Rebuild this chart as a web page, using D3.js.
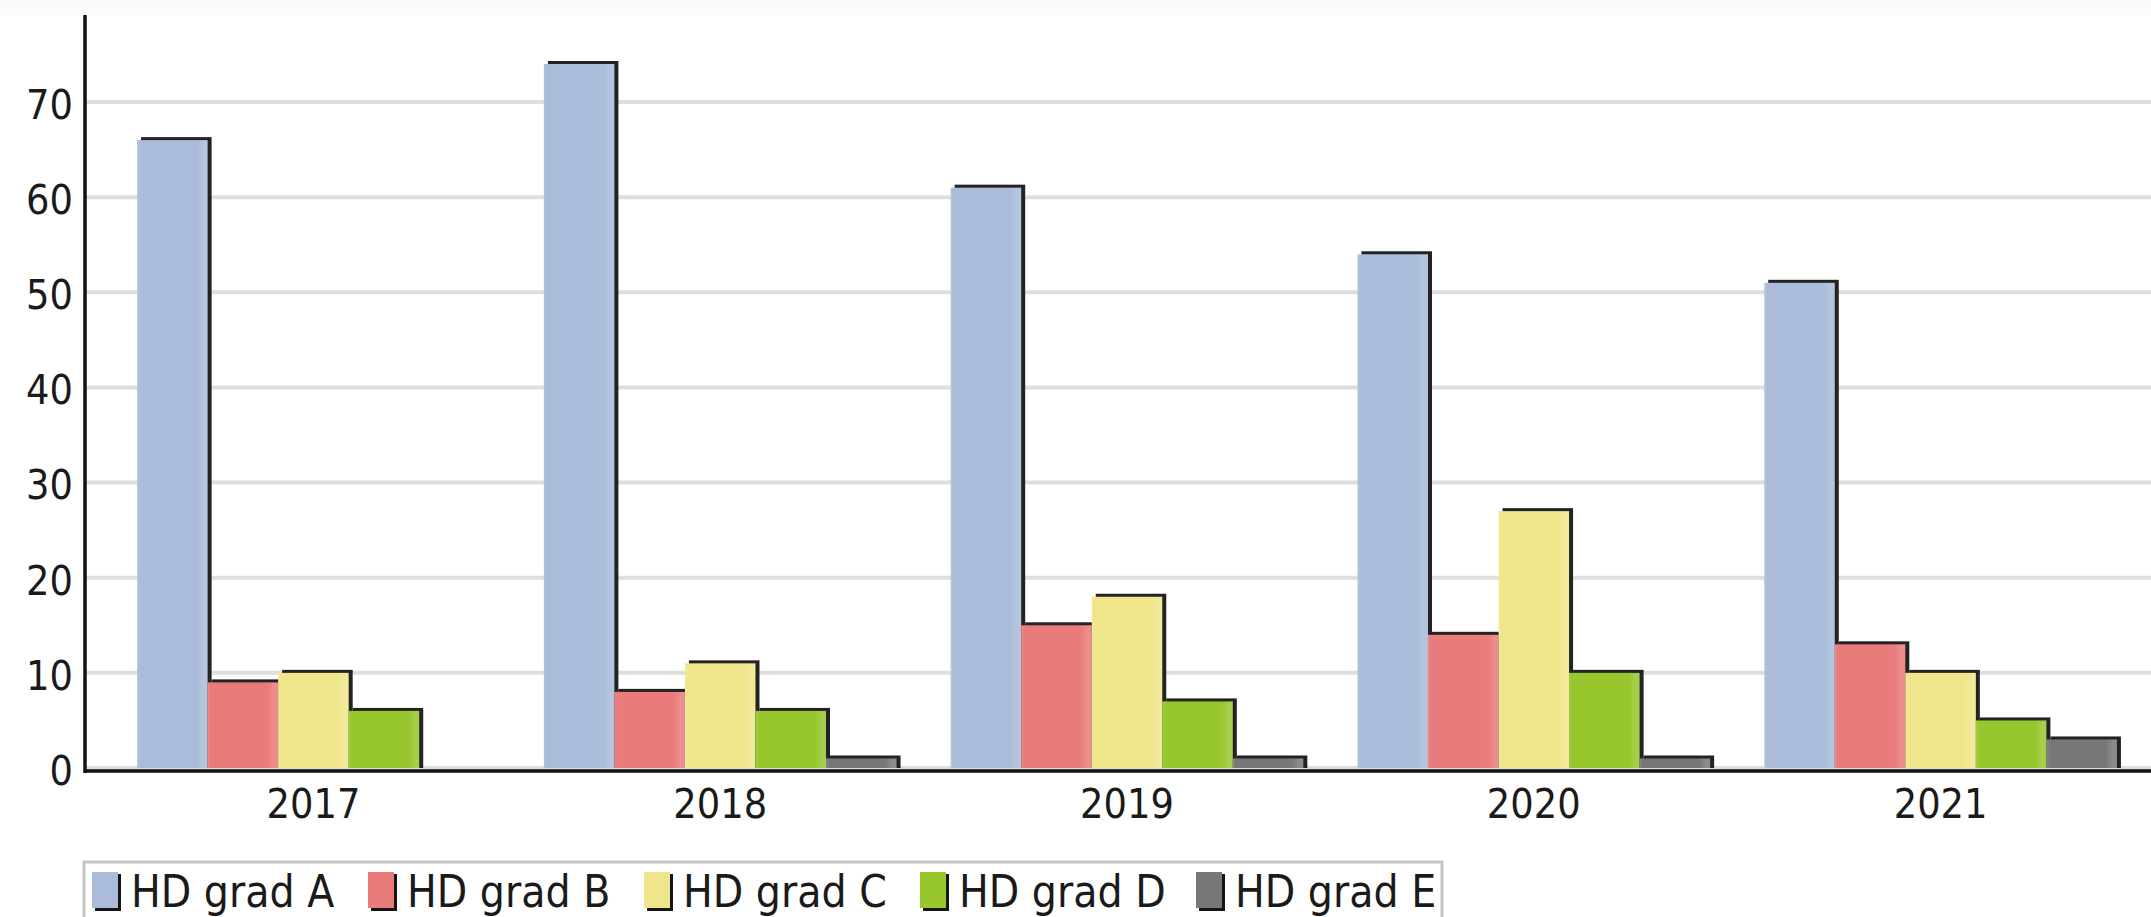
<!DOCTYPE html>
<html>
<head>
<meta charset="utf-8">
<script src="https://cdn.jsdelivr.net/npm/d3@7"></script>
<style>
  html, body { margin: 0; padding: 0; background: #ffffff; overflow: hidden; }
  svg { display: block; }
  text { font-family: "Liberation Sans Narrow", "Arial Narrow", "DejaVu Sans Condensed", sans-serif; fill: #1a1a1a; }
</style>
</head>
<body>
<svg id="chart" width="2151" height="917"></svg>
<script>
// ---- data ----
const years = ["2017", "2018", "2019", "2020", "2021"];
const seriesNames = ["HD grad A", "HD grad B", "HD grad C", "HD grad D", "HD grad E"];
const gradA = [66, 74, 61, 54, 51];
const gradB = [9, 8, 15, 14, 13];
const gradC = [10, 11, 18, 27, 10];
const gradD = [6, 6, 7, 10, 5];
const gradE = [0, 1, 1, 1, 3];
const yTicks = [0, 10, 20, 30, 40, 50, 60, 70];
const seriesColors = ["#aabcd9", "#ea7b7b", "#efe68b", "#97c62d", "#787878"];

const seriesValues = [gradA, gradB, gradC, gradD, gradE];

// ---- layout ----
const W = 2151, H = 917;
const axisX = 85, plotTop = 15, zeroY = 768;

const svg = d3.select("#chart");

svg.append("rect").attr("x", 0).attr("y", 0).attr("width", W).attr("height", H).attr("fill", "#ffffff");
svg.append("rect").attr("x", 0).attr("y", 0).attr("width", W).attr("height", plotTop).attr("fill", "#fafafa");

const y = d3.scaleLinear().domain([0, 79.15]).range([zeroY, plotTop]);

const x0 = d3.scaleBand().domain(years).range([axisX, 2169]).paddingInner(0.133).paddingOuter(0.128);
const x1 = d3.scaleBand().domain(seriesNames).range([0, x0.bandwidth()]).padding(0);

// gradients for bars
const defs = svg.append("defs");
seriesColors.forEach((c, i) => {
  const g = defs.append("linearGradient").attr("id", "grad" + i).attr("x1", "0%").attr("x2", "100%").attr("y1", "0%").attr("y2", "0%");
  const light = d3.interpolateRgb(c, "#ffffff")(0.14);
  g.append("stop").attr("offset", "0%").attr("stop-color", light);
  g.append("stop").attr("offset", "4%").attr("stop-color", c);
  g.append("stop").attr("offset", "84%").attr("stop-color", c);
  g.append("stop").attr("offset", "94%").attr("stop-color", light);
  g.append("stop").attr("offset", "100%").attr("stop-color", light);
});

// gridlines
svg.append("g").selectAll("line").data(yTicks).join("line")
  .attr("x1", axisX).attr("x2", W)
  .attr("y1", d => y(d)).attr("y2", d => y(d))
  .attr("stroke", "#dedede").attr("stroke-width", 4);

// bars
const rows = years.map((yr, i) => ({ year: yr, vals: seriesNames.map((s, j) => ({ s, j, v: seriesValues[j][i] })) }));
const groups = svg.append("g").selectAll("g").data(rows).join("g")
  .attr("transform", d => `translate(${x0(d.year)},0)`);

// shadows first
groups.selectAll("rect.shadow").data(d => d.vals.filter(e => e.v > 0)).join("rect")
  .attr("class", "shadow")
  .attr("x", e => x1(e.s) + 4)
  .attr("y", e => y(e.v) - 3)
  .attr("width", x1.bandwidth())
  .attr("height", e => zeroY - y(e.v) + 3)
  .attr("fill", "#232323");

groups.selectAll("rect.bar").data(d => d.vals.filter(e => e.v > 0)).join("rect")
  .attr("class", "bar")
  .attr("x", e => x1(e.s))
  .attr("y", e => y(e.v))
  .attr("width", x1.bandwidth())
  .attr("height", e => zeroY - y(e.v))
  .attr("fill", e => `url(#grad${e.j})`);

// axes
const yAxis = d3.axisLeft(y).tickValues(yTicks).tickSize(0).tickPadding(12).tickFormat(d3.format("d"));
const gy = svg.append("g").attr("transform", `translate(${axisX},0)`).call(yAxis);
gy.select(".domain").remove();
gy.selectAll("text").attr("font-size", 41).attr("dy", "0.4em").style("font-family", null);

const xAxis = d3.axisBottom(x0).tickSize(0).tickPadding(18);
const gx = svg.append("g").attr("transform", `translate(0,${zeroY + 3})`).call(xAxis);
gx.select(".domain").remove();
gx.selectAll("text").attr("font-size", 41).attr("dy", "0.71em").style("font-family", null);

svg.append("line").attr("x1", axisX).attr("x2", W).attr("y1", zeroY + 3).attr("y2", zeroY + 3)
  .attr("stroke", "#111").attr("stroke-width", 3.5);
svg.append("line").attr("x1", axisX).attr("x2", axisX).attr("y1", plotTop).attr("y2", zeroY + 5)
  .attr("stroke", "#111").attr("stroke-width", 3.5);

// legend
const legendX = 84, legendY = 862, legendStep = 276;
svg.append("rect").attr("x", legendX).attr("y", legendY).attr("width", 1358).attr("height", 80)
  .attr("fill", "#ffffff").attr("stroke", "#c4c4c4").attr("stroke-width", 3);
const li = svg.append("g").selectAll("g").data(seriesNames).join("g")
  .attr("transform", (d, i) => `translate(${legendX + 8 + i * legendStep},${legendY})`);
li.append("rect").attr("x", 3).attr("y", 12).attr("width", 26).attr("height", 37).attr("fill", "#151515");
li.append("rect").attr("x", 0).attr("y", 10).attr("width", 26).attr("height", 36)
  .attr("fill", (d, i) => seriesColors[i]);
li.append("text").attr("x", 39).attr("y", 45).attr("font-size", 44).text(d => d);
</script>
</body>
</html>
